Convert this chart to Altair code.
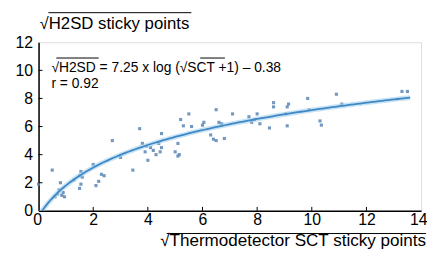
import altair as alt
import pandas as pd
import numpy as np

# scatter points (sqrt SCT, sqrt H2SD)
sct = [0.0, 0.5, 0.6, 0.7, 0.75, 0.8, 0.85, 0.9, 0.95,
       1.3, 1.5, 1.5, 1.55, 1.55, 1.6,
       2.0, 2.1, 2.2, 2.3, 2.4, 2.7, 3.0, 3.45, 3.7,
       3.8, 3.9, 3.95, 4.0, 4.1, 4.2, 4.3, 4.4, 4.45, 4.5, 4.5,
       5.0, 5.1, 5.1, 5.15, 5.2, 5.3, 5.5, 5.6, 6.0, 6.05,
       6.3, 6.4, 6.5, 6.5, 6.6, 6.7, 6.8, 7.1,
       7.7, 7.8, 7.9, 8.0, 8.1, 8.45, 8.6, 8.6,
       9.05, 9.1, 9.15, 9.1, 9.85, 9.9, 10.3, 10.35, 10.9, 11.1, 13.3, 13.5]
h2sd = [1.9, 2.9, 1.0, 1.2, 1.5, 2.0, 1.1, 1.3, 1.0,
        2.2, 2.5, 1.6, 2.8, 1.9, 2.4,
        3.3, 1.8, 2.1, 2.6, 2.5, 5.0, 3.8, 2.9, 5.85,
        4.8, 4.2, 4.6, 3.6, 4.5, 4.3, 4.0, 4.8, 4.2, 5.5, 4.5,
        4.2, 3.9, 4.8, 4.0, 6.5, 6.05, 6.9, 6.0, 6.1, 6.3,
        5.4, 5.1, 5.0, 7.2, 6.3, 6.2, 5.15, 6.9,
        6.7, 6.3, 6.5, 6.9, 6.2, 5.9, 7.4, 7.7,
        6.9, 7.4, 7.6, 6.05, 8.0, 7.2, 6.4, 6.1, 8.3, 7.6, 8.5, 8.5]

# fitted curve stated on the chart: sqrt(H2SD) = 7.25 x log(sqrt(SCT)+1) - 0.38
fit_a = 7.25
fit_b = -0.38
curve_x = np.linspace(0, 13.6, 120)
curve_y = fit_a * np.log10(curve_x + 1) + fit_b

x_ticks = [0, 2, 4, 6, 8, 10, 12, 14]
y_ticks = [0, 2, 4, 6, 8, 10, 12]
x_inner_ticks = [2, 4, 6, 8, 10, 12]
y_inner_ticks = [2, 4, 6, 8, 10]

x_title = "√Thermodetector SCT sticky points"
y_title = "√H2SD sticky points"
equation = "√H2SD = 7.25 x log (√SCT +1) – 0.38"
r_text = "r = 0.92"

W, H = 388, 171
FONT = "Liberation Sans"

pts = pd.DataFrame({"x": sct, "y": h2sd})
cur = pd.DataFrame({"x": curve_x, "y": curve_y})

xs = alt.Scale(domain=[0, 14], nice=False, zero=False)
ys = alt.Scale(domain=[0, 12], nice=False, zero=False)

x_axis = alt.Axis(values=x_ticks, grid=False, ticks=False, labelPadding=1,
                  labelOverlap=False, labelFlush=True, labelFlushOffset=6,
                  labelFontSize=16, labelFont=FONT, labelColor="black",
                  domainColor="black", domainWidth=1.5, title=None)
y_axis = alt.Axis(values=y_ticks, grid=False, ticks=False, labelPadding=6,
                  labelOverlap=False, labelFlush=False,
                  labelFontSize=16, labelFont=FONT, labelColor="black",
                  domainColor="black", domainWidth=1.5, title=None)

X = alt.X("x:Q", scale=xs, axis=x_axis)
Y = alt.Y("y:Q", scale=ys, axis=y_axis)

points = alt.Chart(pts).mark_square(size=10, color="#5a86b4", opacity=0.85).encode(x=X, y=Y)
glow = alt.Chart(cur).mark_line(color="#a9d2ee", strokeWidth=5, opacity=0.6, clip=True).encode(x=X, y=Y)
line = alt.Chart(cur).mark_line(color="#3d88c5", strokeWidth=1.8, clip=True).encode(x=X, y=Y)

yt = alt.Chart(pd.DataFrame({"y": y_inner_ticks})).mark_rule(color="black", strokeWidth=1).encode(
    y=Y, x=alt.value(0), x2=alt.value(4))
xt = alt.Chart(pd.DataFrame({"x": x_inner_ticks})).mark_rule(color="black", strokeWidth=1).encode(
    x=X, y=alt.value(H), y2=alt.value(H - 4))

def txt(s, x, y, size=14, align="left"):
    return alt.Chart(pd.DataFrame({"t": [s]})).mark_text(
        font=FONT, fontSize=size, align=align, baseline="alphabetic", color="black"
    ).encode(text="t:N", x=alt.value(x), y=alt.value(y))

def overline(x1, x2, y):
    return alt.Chart(pd.DataFrame({"a": [0]})).mark_rule(color="black", strokeWidth=1).encode(
        x=alt.value(x1), x2=alt.value(x2), y=alt.value(y))

ytitle = txt(y_title, 1, -13, size=17)
xtitle = txt(x_title, 393, 207, size=17.3, align="right")
eq = txt(equation, 13, 30)
rr = txt(r_text, 13, 46)

ol1 = overline(10, 155, -30)
ol2 = overline(18, 61, 16)
ol3 = overline(164, 189, 16)
ol4 = overline(130, 393, 194)

chart = alt.layer(points, glow, line, yt, xt, ytitle, xtitle, eq, rr, ol1, ol2, ol3, ol4).properties(
    width=W, height=H,
    autosize=alt.AutoSizeParams(type="none"),
    padding={"left": 31, "top": 33, "right": 6, "bottom": 40},
).configure_view(stroke="#777777", strokeWidth=1).configure(background="white")

chart.save("out.html", embed_options={"renderer": "svg", "actions": False})
